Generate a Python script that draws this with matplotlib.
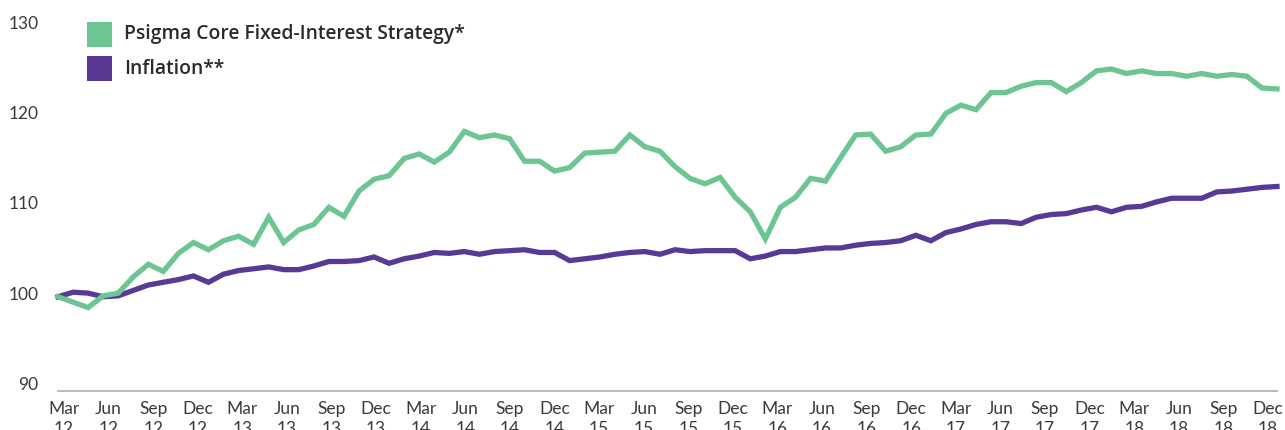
import numpy as np
import matplotlib.pyplot as plt
from matplotlib.patches import Rectangle

# monthly index values, Mar 2012 - Dec 2018
months = ["Jan", "Feb", "Mar", "Apr", "May", "Jun", "Jul", "Aug", "Sep", "Oct", "Nov", "Dec"]
start_year = 2012
start_month = 3

strategy = [
	99.6, 99.0, 98.4, 99.7, 100.0, 101.8, 103.2, 102.4, 104.4, 105.6, 104.8, 105.8,
	106.3, 105.4, 108.4, 105.6, 107.0, 107.6, 109.5, 108.5, 111.3, 112.6, 113.0, 114.9,
	115.4, 114.5, 115.6, 117.9, 117.2, 117.5, 117.1, 114.6, 114.6, 113.5, 113.9, 115.5,
	115.6, 115.7, 117.5, 116.2, 115.7, 114.0, 112.7, 112.1, 112.8, 110.6, 109.0, 106.0,
	109.5, 110.6, 112.7, 112.4, 115.0, 117.5, 117.6, 115.7, 116.2, 117.5, 117.6, 119.9,
	120.8, 120.3, 122.2, 122.2, 122.9, 123.3, 123.3, 122.3, 123.3, 124.6, 124.8, 124.3,
	124.6, 124.3, 124.3, 124.0, 124.3, 124.0, 124.2, 124.0, 122.7, 122.6,
]
inflation = [
	99.6, 100.1, 100.0, 99.6, 99.7, 100.3, 100.9, 101.2, 101.5, 101.9, 101.2, 102.1,
	102.5, 102.7, 102.9, 102.6, 102.6, 103.0, 103.5, 103.5, 103.6, 104.0, 103.3, 103.8,
	104.1, 104.5, 104.4, 104.6, 104.3, 104.6, 104.7, 104.8, 104.5, 104.5, 103.6, 103.8,
	104.0, 104.3, 104.5, 104.6, 104.3, 104.8, 104.6, 104.7, 104.7, 104.7, 103.8, 104.1,
	104.6, 104.6, 104.8, 105.0, 105.0, 105.3, 105.5, 105.6, 105.8, 106.4, 105.8, 106.7,
	107.1, 107.6, 107.9, 107.9, 107.7, 108.4, 108.7, 108.8, 109.2, 109.5, 109.0, 109.5,
	109.6, 110.1, 110.5, 110.5, 110.5, 111.2, 111.3, 111.5, 111.7, 111.8,
]
series_names = ["Psigma Core Fixed-Interest Strategy*", "Inflation**"]

green = "#6cc592"
purple = "#583a96"
font = "Lato"

x = np.arange(len(strategy))
tick_labels = []
for i in x[::3]:
	m = start_month - 1 + i
	tick_labels.append("%s\n%d" % (months[m % 12], (start_year + m // 12) % 100))
# the category labels in the reference are spread slightly tighter than the points
tick_pos = np.linspace(0.4, len(x) - 1.6, len(tick_labels))

W, H = 1285, 430
fig = plt.figure(figsize=(W / 100, H / 100), dpi=100)
ax = fig.add_axes([58 / W, 39 / H, 1219 / W, 378 / H])

ax.plot(x, inflation, color=purple, lw=3.8, solid_joinstyle="miter", clip_on=False)
ax.plot(x, strategy, color=green, lw=3.8, solid_joinstyle="miter", clip_on=False)

ax.set_xlim(0, len(x) - 1)
ax.set_ylim(89.17, 131.0)
ax.set_yticks([90, 100, 110, 120, 130])
ax.set_xticks(tick_pos)
ax.set_xticklabels(tick_labels, linespacing=1.3)

for side in ["top", "right", "left"]:
	ax.spines[side].set_visible(False)
ax.spines["bottom"].set_color("#b5b5b5")
ax.spines["bottom"].set_linewidth(1.3)
ax.tick_params(axis="y", length=0, pad=14, labelsize=12.5, labelcolor="#3a3a3a")
ax.tick_params(axis="x", length=0, pad=7, labelsize=12.5, labelcolor="#3a3a3a")
for lab in ax.get_xticklabels() + ax.get_yticklabels():
	lab.set_fontfamily(font)

# legend: colour squares with bold labels, top left
for k, (name, col) in enumerate(zip(series_names, [green, purple])):
	top = 22 + 34 * k
	fig.add_artist(Rectangle((87 / W, 1 - (top + 25) / H), 25 / W, 25 / H,
		transform=fig.transFigure, color=col, lw=0))
	fig.text(124 / W, 1 - (top + 12.5) / H, name, va="center", ha="left",
		family="Open Sans", weight="semibold", size=13.9, color="#2a2a2a")

fig.savefig("out.png", dpi=100)
